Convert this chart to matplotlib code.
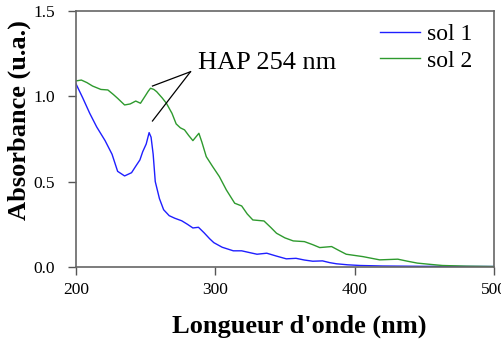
import matplotlib.pyplot as plt

plt.rcParams['font.family'] = ['Liberation Serif', 'DejaVu Serif']

# Spectres UV-visible des deux solutions
wl_1 = [200, 205, 210, 215, 221, 226, 230, 235, 240, 243, 246, 248, 250.5, 252.6, 254, 255.5,
        257, 260, 263, 267, 271, 276, 280, 284, 288, 292, 296, 299, 305, 313, 319, 325,
        330, 337, 344, 351, 358, 364, 370, 377, 382, 387, 395, 404, 420, 450, 500]
abs_1 = [1.075, 0.99, 0.90, 0.82, 0.74, 0.66, 0.56, 0.533, 0.552, 0.59, 0.627, 0.675, 0.72, 0.787, 0.76, 0.66,
         0.50, 0.40, 0.335, 0.30, 0.285, 0.27, 0.25, 0.228, 0.232, 0.20, 0.165, 0.142, 0.115, 0.094, 0.094, 0.083,
         0.074, 0.08, 0.063, 0.047, 0.05, 0.04, 0.033, 0.035, 0.025, 0.018, 0.012, 0.008, 0.005, 0.003, 0.002]

wl_2 = [200, 204, 208, 212, 218, 223, 227, 230, 235, 239, 243, 246.4, 249.5, 252, 253.6, 256,
        258, 262, 265, 269, 272, 275, 278, 281, 284, 286, 288.3, 290.5, 293.6, 298, 303, 308,
        314, 319, 323, 327, 335, 340, 344, 350, 356, 364, 370, 375, 383.5, 389, 394, 406,
        418, 431, 438, 445, 455, 463, 480, 500]
abs_2 = [1.09, 1.095, 1.08, 1.06, 1.04, 1.037, 1.01, 0.988, 0.949, 0.955, 0.972, 0.959, 0.998, 1.03, 1.047, 1.04,
         1.027, 0.99, 0.959, 0.90, 0.838, 0.815, 0.803, 0.77, 0.74, 0.76, 0.783, 0.73, 0.646, 0.59, 0.529, 0.451,
         0.373, 0.357, 0.31, 0.275, 0.269, 0.23, 0.197, 0.17, 0.152, 0.148, 0.13, 0.113, 0.119, 0.095, 0.074, 0.06,
         0.041, 0.045, 0.033, 0.022, 0.014, 0.008, 0.004, 0.002]

fig = plt.figure(figsize=(5.02, 3.43), dpi=100)
ax = fig.add_axes([0.151, 0.222, 0.833, 0.746])

ax.plot(wl_1, abs_1, color='#1f1fff', lw=1.0, label='sol 1')
ax.plot(wl_2, abs_2, color='#2e9a2e', lw=1.0, label='sol 2')

# Fleches vers le pic a 254 nm
ax.plot([282.3, 255], [1.144, 1.06], color='black', lw=0.9)
ax.plot([282.3, 255], [1.144, 0.855], color='black', lw=0.9)
ax.text(287.5, 1.195, 'HAP 254 nm', fontsize=19, va='center', ha='left')

ax.set_xlim(200, 500)
ax.set_ylim(0, 1.5)
ax.set_xticks([200, 300, 400, 500])
ax.set_yticks([0.0, 0.5, 1.0, 1.5])
ax.set_yticklabels(['0.0', '0.5', '1.0', '1.5'])
ax.tick_params(direction='out', length=6, width=1, color='#555555', labelsize=12.5)
ax.tick_params(axis='y', pad=9)
ax.tick_params(axis='x', pad=5)
for s in ax.spines.values():
    s.set_color('#666666')
    s.set_linewidth(1.2)

ax.set_xlabel("Longueur d'onde (nm)", fontsize=19, fontweight='bold', va='center')
ax.set_ylabel('Absorbance (u.a.)', fontsize=19, fontweight='bold', va='center')
ax.xaxis.set_label_coords(0.535, -0.234)
ax.yaxis.set_label_coords(-0.134, 0.574)

ax.legend(loc='upper left', frameon=False, fontsize=17, handlelength=1.7,
          handletextpad=0.3, labelspacing=0.2, borderpad=0, borderaxespad=0,
          bbox_to_anchor=(0.727, 0.95))

fig.savefig('out.png', dpi=100)
